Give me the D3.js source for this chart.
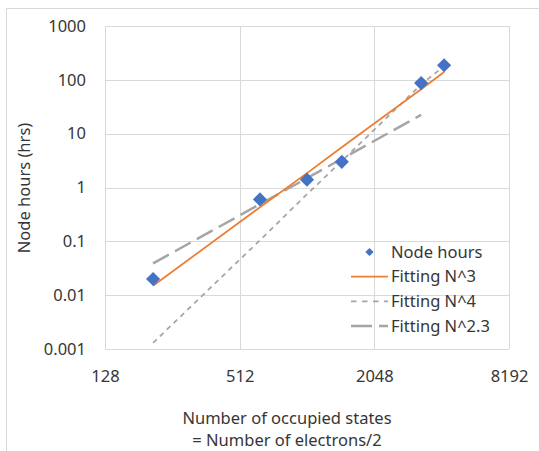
<!DOCTYPE html>
<html lang="en">
<head>
<meta charset="utf-8">
<style>
    body { margin: 0; background: #fff; font-family: "Noto Sans", sans-serif; }
    svg { display: block; }
    .grid line { stroke: #d9d9d9; stroke-width: 1px; }
    .tick text { fill: #363636; }
</style>
</head>
<body>
<div id="chart"></div>
<script src="https://d3js.org/d3.v7.min.js"></script>
<script>
    // values
    var states = [210, 631, 1024, 1465, 3316, 4200];
    var nodeHours = [0.02, 0.6, 1.4, 3.0, 87, 187];
    var fitN3 = [0.015, 0.43, 1.85, 5.6, 67, 140];
    var fitN4 = [0.0013, 0.105, 0.75, 3.1, 82, 180];
    var fitN23 = [0.039, 0.49, 1.49, 3.4, 22.3, null];
    var xTicks = [128, 512, 2048, 8192];
    var yTicks = [0.001, 0.01, 0.1, 1, 10, 100, 1000];

    var width = 539, height = 451;
    var plotLeft = 105, plotRight = 509, plotTop = 26, plotBottom = 349;
    var font = 16.5, ink = "#363636";

    var svg = d3.select("#chart").append("svg")
        .attr("width", width)
        .attr("height", height);

    // chart frame (only top and left edges show in the picture)
    svg.append("path")
        .attr("d", "M6.5," + height + "V8.5H" + width)
        .attr("fill", "none")
        .attr("stroke", "#d9d9d9");

    var x = d3.scaleLog().base(2).domain([128, 8192]).range([plotLeft, plotRight]);
    var y = d3.scaleLog().domain([0.001, 1000]).range([plotBottom, plotTop]);

    var grid = svg.append("g").attr("class", "grid");
    grid.selectAll(".gx").data(xTicks).enter().append("line")
        .attr("x1", function (d) { return Math.round(x(d)) + 0.5; })
        .attr("x2", function (d) { return Math.round(x(d)) + 0.5; })
        .attr("y1", plotTop).attr("y2", plotBottom);
    grid.selectAll(".gy").data(yTicks).enter().append("line")
        .attr("y1", function (d) { return Math.round(y(d)) + 0.5; })
        .attr("y2", function (d) { return Math.round(y(d)) + 0.5; })
        .attr("x1", plotLeft).attr("x2", plotRight);

    var xAxis = svg.append("g")
        .attr("transform", "translate(0," + plotBottom + ")")
        .call(d3.axisBottom(x).tickValues(xTicks).tickFormat(d3.format("d")).tickSize(0).tickPadding(21));
    var yAxis = svg.append("g")
        .attr("transform", "translate(" + plotLeft + ",0)")
        .call(d3.axisLeft(y).tickValues(yTicks).tickFormat(function (d) { return String(d); }).tickSize(0).tickPadding(19));
    [xAxis, yAxis].forEach(function (a) {
        a.select(".domain").remove();
        a.selectAll("text").attr("font-size", font).attr("font-family", "Noto Sans");
    });

    function lineFor(vals) {
        return d3.line()
            .defined(function (d) { return d[1] != null; })
            .x(function (d) { return x(d[0]); })
            .y(function (d) { return y(d[1]); })(d3.zip(states, vals));
    }

    var series = [
        { name: "Fitting N^2.3", vals: fitN23, color: "#a5a5a5", w: 2.5, dash: "18,7" },
        { name: "Fitting N^4", vals: fitN4, color: "#a5a5a5", w: 1.75, dash: "5,4.5" },
        { name: "Fitting N^3", vals: fitN3, color: "#ed7d31", w: 1.75, dash: null }
    ];

    series.forEach(function (s) {
        svg.append("path")
            .attr("d", lineFor(s.vals))
            .attr("fill", "none")
            .attr("stroke", s.color)
            .attr("stroke-width", s.w)
            .attr("stroke-dasharray", s.dash);
    });

    var diamond = d3.symbol().type(d3.symbolSquare);
    svg.selectAll(".pt").data(d3.zip(states, nodeHours)).enter().append("path")
        .attr("d", diamond.size(100)())
        .attr("transform", function (d) { return "translate(" + x(d[0]) + "," + y(d[1]) + ") rotate(45)"; })
        .attr("fill", "#4472c4");

    // legend
    var legend = [
        { name: "Node hours", type: "pt" },
        { name: "Fitting N^3", color: "#ed7d31", w: 1.75, dash: null },
        { name: "Fitting N^4", color: "#a5a5a5", w: 1.75, dash: "5.5,5.5" },
        { name: "Fitting N^2.3", color: "#a5a5a5", w: 2.5, dash: "21,7" }
    ];
    var lg = svg.append("g").attr("transform", "translate(351,252)");
    legend.forEach(function (d, i) {
        var row = lg.append("g").attr("transform", "translate(0," + (i * 24.7) + ")");
        if (d.type == "pt") {
            row.append("path")
                .attr("d", d3.symbol().type(d3.symbolSquare).size(34)())
                .attr("transform", "translate(18.5,0) rotate(45)")
                .attr("fill", "#4472c4");
        } else {
            row.append("line")
                .attr("x1", 0).attr("x2", 37)
                .attr("stroke", d.color)
                .attr("stroke-width", d.w)
                .attr("stroke-dasharray", d.dash);
        }
        row.append("text")
            .attr("x", 40).attr("dy", "0.35em")
            .attr("font-size", font)
            .attr("fill", ink)
            .text(d.name);
    });

    // axis titles
    svg.append("text")
        .attr("transform", "translate(24,188) rotate(-90)")
        .attr("text-anchor", "middle")
        .attr("dy", "0.35em")
        .attr("font-size", font)
        .attr("fill", ink)
        .text("Node hours (hrs)");

    var xt = svg.append("text")
        .attr("text-anchor", "middle")
        .attr("font-size", font)
        .attr("fill", ink);
    xt.append("tspan").attr("x", 287).attr("y", 424).text("Number of occupied states");
    xt.append("tspan").attr("x", 287).attr("y", 446).text("= Number of electrons/2");
</script>
</body>
</html>
